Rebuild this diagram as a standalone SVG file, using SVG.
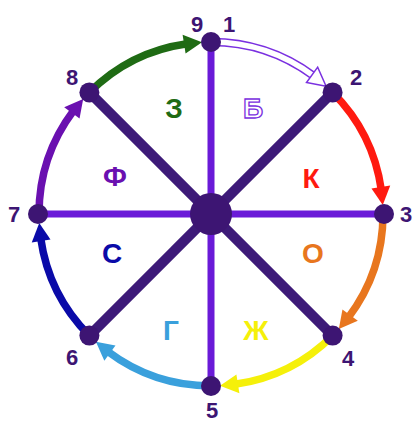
<svg xmlns="http://www.w3.org/2000/svg" width="414" height="423" viewBox="0 0 414 423">
<style>
.arc{fill:none;stroke-width:7.5}
.sp{stroke:#6a1ad8;stroke-width:7}
.dg{stroke:#3d1a78;stroke-width:10}
.nd{fill:#3d1573}
.num{font-family:"Liberation Sans",Arial,sans-serif;font-weight:bold;font-size:22px;fill:#3d1573;text-anchor:middle}
.let{font-family:"Liberation Sans",Arial,sans-serif;font-weight:bold;font-size:28px;text-anchor:middle}
</style>
<defs>
<path id="arcL" d="M332.62,92.38 A172,172 0 0 1 381.33,190.06"/>
<polygon id="headL" points="382.76,205 390.26,185.6 371.5,188.58"/>
</defs>
<rect width="414" height="423" fill="#fff"/>
<g id="connectors">
  <line class="sp" x1="211" y1="42" x2="211" y2="386"/>
  <line class="sp" x1="39" y1="214" x2="384" y2="214"/>
  <line class="dg" x1="89.4" y1="92.4" x2="332.6" y2="335.6"/>
  <line class="dg" x1="332.6" y1="92.4" x2="89.4" y2="335.6"/>
  <!-- 8 -> 9 green -->
  <g transform="rotate(-90 211 214)"><use href="#arcL" class="arc" stroke="#1f6b14"/><use href="#headL" fill="#1f6b14"/></g>
  <!-- 1 -> 2 hollow -->
  <g transform="rotate(-45 211 214)">
    <path d="M332.62,92.38 A172,172 0 0 1 380.88,187.09" fill="none" stroke="#7a30e0" stroke-width="8.5"/>
    <use href="#arcL" fill="none" stroke="#fff" stroke-width="5.5"/>
    <use href="#headL" fill="#fff" stroke="#7a30e0" stroke-width="1.5" stroke-linejoin="miter"/>
  </g>
  <!-- 2 -> 3 red -->
  <g><use href="#arcL" class="arc" stroke="#ff1a10"/><use href="#headL" fill="#ff1a10"/></g>
  <!-- 3 -> 4 orange -->
  <g transform="rotate(45 211 214)"><use href="#arcL" class="arc" stroke="#e8761e"/><use href="#headL" fill="#e8761e"/></g>
  <!-- 4 -> 5 yellow -->
  <g transform="rotate(90 211 214)"><use href="#arcL" class="arc" stroke="#f5f00a"/><use href="#headL" fill="#f5f00a"/></g>
  <!-- 5 -> 6 light blue -->
  <g transform="rotate(135 211 214)"><use href="#arcL" class="arc" stroke="#3aa0dc"/><use href="#headL" fill="#3aa0dc"/></g>
  <!-- 6 -> 7 blue -->
  <g transform="rotate(180 211 214)"><use href="#arcL" class="arc" stroke="#0a0aa8"/><use href="#headL" fill="#0a0aa8"/></g>
  <!-- 7 -> 8 purple -->
  <g transform="rotate(225 211 214)"><use href="#arcL" class="arc" stroke="#6a10b0"/><use href="#headL" fill="#6a10b0"/></g>
</g>
<g id="center"><circle class="nd" cx="211" cy="214" r="21"/></g>
<g id="n91"><circle class="nd" cx="211" cy="42" r="10"/><text class="num" x="197" y="32">9</text><text class="num" x="229" y="32">1</text></g>
<g id="n2"><circle class="nd" cx="332.6" cy="92.4" r="10"/><text class="num" x="356" y="85">2</text></g>
<g id="n3"><circle class="nd" cx="384" cy="214" r="10"/><text class="num" x="406" y="222">3</text></g>
<g id="n4"><circle class="nd" cx="332.6" cy="335.6" r="10"/><text class="num" x="348" y="366">4</text></g>
<g id="n5"><circle class="nd" cx="211" cy="386" r="10"/><text class="num" x="212" y="418">5</text></g>
<g id="n6"><circle class="nd" cx="89.4" cy="335.6" r="10"/><text class="num" x="72" y="365">6</text></g>
<g id="n7"><circle class="nd" cx="38" cy="214" r="10"/><text class="num" x="14" y="222">7</text></g>
<g id="n8"><circle class="nd" cx="89.4" cy="92.4" r="10"/><text class="num" x="72" y="85">8</text></g>
<g id="sectors">
  <text class="let" x="174" y="118" fill="#1f6b14">З</text>
  <text class="let" x="253" y="118" fill="#fff" stroke="#7a30e0" stroke-width="1.3">Б</text>
  <text class="let" x="311" y="188" fill="#ff1a10">К</text>
  <text class="let" x="115" y="186" fill="#6a10b0">Ф</text>
  <text class="let" x="112" y="263" fill="#0a0aa8">С</text>
  <text class="let" x="313" y="263" fill="#e8761e">О</text>
  <text class="let" x="171" y="340" fill="#3aa0dc">Г</text>
  <text class="let" x="256" y="340" fill="#f5f00a">Ж</text>
</g>
</svg>
